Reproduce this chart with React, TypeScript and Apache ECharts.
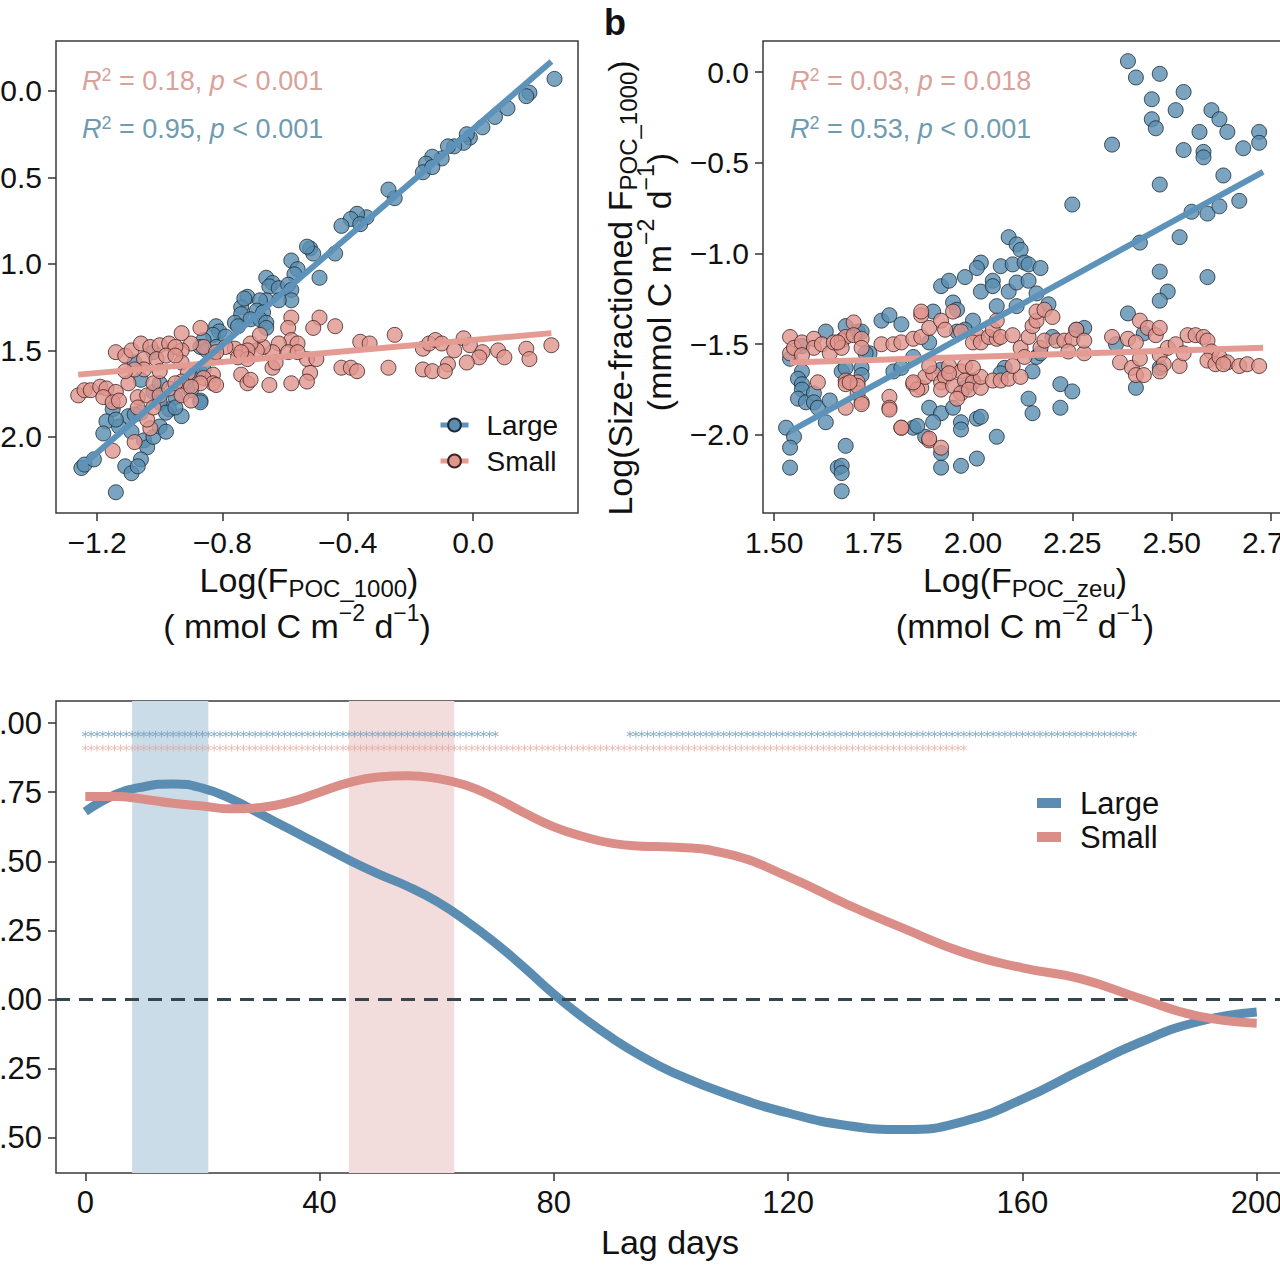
import React, { useEffect, useRef } from "react";
import * as echarts from "echarts";

const FONT = "'Liberation Sans', Arial, Helvetica, sans-serif";

// ---------- Panel a : Log(F_POC_1000) vs size-fractioned ----------
const largeA: number[][] = [
  [0.26,0.07],[0.18,-0.01],[0.17,-0.03],[0.11,-0.10],[0.07,-0.15],[0.03,-0.21],[-0.01,-0.27],[-0.02,-0.25],[-0.03,-0.30],[-0.06,-0.32],
  [-0.08,-0.32],[-0.10,-0.39],[-0.13,-0.38],[-0.15,-0.42],[-0.16,-0.47],[-0.13,-0.44],[-0.25,-0.62],[-0.27,-0.57],[-0.34,-0.73],[-0.37,-0.71],
  [-0.39,-0.74],[-0.42,-0.78],[-0.36,-0.77],[-0.44,-0.94],[-0.49,-1.08],[-0.52,-0.91],[-0.51,-0.94],[-0.53,-0.90],[-0.58,-0.98],[-0.56,-1.03],
  [-0.57,-1.06],[-0.66,-1.08],[-0.64,-1.11],[-0.65,-1.13],[-0.62,-1.14],[-0.59,-1.12],[-0.58,-1.15],[-0.58,-1.21],[-0.62,-1.21],[-0.66,-1.21],
  [-0.72,-1.19],[-0.68,-1.21],[-0.74,-1.25],[-0.74,-1.29],[-0.69,-1.27],[-0.67,-1.28],[-0.71,-1.32],[-0.68,-1.32],[-0.66,-1.34],[-0.66,-1.37],
  [-0.76,-1.34],[-0.75,-1.36],[-0.82,-1.36],[-0.81,-1.39],[-0.83,-1.41],[-0.79,-1.42],[-0.86,-1.44],[-0.87,-1.48],[-0.85,-1.50],[-0.82,-1.48],
  [-0.87,-1.63],[-0.89,-1.64],[-0.90,-1.73],[-0.87,-1.79],[-1.08,-1.57],[-1.02,-1.51],[-1.06,-1.67],[-1.02,-1.74],[-1.00,-1.69],[-0.95,-1.77],
  [-0.97,-1.84],[-1.00,-1.80],[-0.87,-1.80],[-0.93,-1.88],[-1.15,-1.84],[-1.17,-1.91],[-1.13,-1.94],[-1.18,-1.98],[-1.10,-1.88],[-1.09,-1.97],
  [-1.05,-2.02],[-1.04,-2.06],[-1.02,-2.00],[-1.00,-1.94],[-0.98,-1.97],[-1.06,-1.86],[-1.25,-2.18],[-1.24,-2.16],[-1.21,-2.13],[-1.11,-2.17],
  [-1.09,-2.21],[-1.06,-2.13],[-1.07,-2.17],[-1.14,-2.32],[-0.86,-1.61],[-0.83,-1.54],[-0.91,-1.71],[-1.14,-1.90],[-0.98,-1.86],[-0.95,-1.83],
  [-0.73,-1.20],[-1.08,-1.87]
];
const smallA: number[][] = [
  [-0.49,-1.31],[-0.44,-1.36],[-0.36,-1.45],[-0.33,-1.46],[-0.25,-1.41],[-0.42,-1.60],[-0.39,-1.60],[-0.37,-1.62],[-0.27,-1.60],[-0.16,-1.49],
  [-0.14,-1.46],[-0.12,-1.44],[-0.10,-1.46],[-0.06,-1.50],[-0.03,-1.43],[-0.01,-1.47],[0.03,-1.51],[0.02,-1.54],[0.08,-1.50],[0.10,-1.54],
  [-0.16,-1.61],[-0.13,-1.62],[-0.08,-1.58],[-0.09,-1.62],[-0.02,-1.57],[0.17,-1.49],[0.18,-1.55],[0.25,-1.47],[-0.58,-1.31],[-0.59,-1.37],
  [-0.51,-1.37],[-0.53,-1.55],[-0.52,-1.63],[-0.53,-1.68],[-0.58,-1.69],[-0.65,-1.70],[-0.64,-1.60],[-0.74,-1.64],[-0.72,-1.69],[-0.71,-1.67],
  [-0.87,-1.37],[-0.58,-1.44],[-0.56,-1.46],[-0.62,-1.46],[-0.59,-1.51],[-0.56,-1.51],[-0.64,-1.51],[-0.67,-1.48],[-0.69,-1.50],[-0.71,-1.46],
  [-0.68,-1.41],[-0.72,-1.50],[-0.76,-1.49],[-0.75,-1.54],[-0.79,-1.48],[-0.83,-1.54],[-0.86,-1.48],[-0.90,-1.46],[-0.93,-1.50],[-0.63,-1.57],
  [-0.72,-1.55],[-0.83,-1.64],[-0.86,-1.66],[-0.83,-1.69],[-0.87,-1.69],[-0.93,-1.57],[-0.91,-1.63],[-0.93,-1.68],[-0.93,-1.40],[-1.14,-1.51],
  [-1.11,-1.53],[-1.09,-1.50],[-1.06,-1.46],[-1.03,-1.48],[-1.00,-1.47],[-0.97,-1.46],[-0.95,-1.48],[-1.05,-1.55],[-1.01,-1.55],[-0.98,-1.53],
  [-0.95,-1.53],[-0.82,-1.51],[-0.74,-1.51],[-0.82,-1.70],[-1.26,-1.76],[-1.24,-1.73],[-1.22,-1.73],[-1.19,-1.71],[-1.17,-1.72],[-1.14,-1.74],
  [-1.18,-1.77],[-1.15,-1.80],[-1.13,-1.79],[-1.10,-1.69],[-1.07,-1.77],[-1.04,-1.76],[-1.07,-1.83],[-1.02,-1.69],[-1.00,-1.76],[-0.97,-1.72],
  [-0.95,-1.69],[-0.93,-1.76],[-0.90,-1.71],[-0.90,-1.79],[-1.08,-2.03],[-1.03,-1.95],[-1.15,-2.08],[-1.05,-1.61],[-1.08,-1.61],[-1.00,-1.62],
  [-1.11,-1.62],[-1.04,-1.90],[-0.50,-1.55],[-1.02,-1.83]
];
const largeFitA = [[-1.25, -2.17], [0.25, 0.17]];
const smallFitA = [[-1.26, -1.64], [0.25, -1.40]];

// ---------- Panel b : Log(F_POC_zeu) vs size-fractioned ----------
const largeB: number[][] = [
  [2.39,0.06],[2.41,-0.03],[2.47,-0.01],[2.45,-0.15],[2.45,-0.26],[2.46,-0.31],[2.53,-0.11],[2.51,-0.21],[2.57,-0.33],[2.60,-0.21],
  [2.62,-0.26],[2.64,-0.33],[2.53,-0.43],[2.58,-0.44],[2.58,-0.47],[2.68,-0.42],[2.72,-0.33],[2.72,-0.39],[2.35,-0.40],[2.47,-0.62],
  [2.63,-0.57],[2.67,-0.71],[2.55,-0.77],[2.59,-0.78],[2.62,-0.74],[2.25,-0.73],[2.42,-0.94],[2.52,-0.91],[2.47,-1.10],[2.59,-1.13],
  [2.49,-1.21],[2.47,-1.26],[2.39,-1.33],[2.43,-1.44],[2.36,-1.50],[2.41,-1.74],[2.47,-1.63],[2.28,-1.41],
  [2.09,-0.91],[2.11,-0.95],[2.12,-0.98],[2.02,-1.05],[2.01,-1.08],[2.07,-1.07],[2.10,-1.06],[2.13,-1.05],[2.14,-1.06],[2.17,-1.08],
  [1.92,-1.18],[1.94,-1.15],[1.98,-1.13],[2.02,-1.21],[2.05,-1.15],[2.05,-1.18],[2.09,-1.21],[2.11,-1.16],[2.14,-1.15],[2.16,-1.22],
  [1.95,-1.27],[1.96,-1.31],[2.06,-1.29],[2.11,-1.29],[2.19,-1.28],[1.90,-1.32],[1.77,-1.37],[1.79,-1.34],[1.82,-1.39],[1.63,-1.43],
  [1.68,-1.40],[1.71,-1.43],[1.72,-1.43],[2.00,-1.37],[1.98,-1.42],[1.96,-1.43],[2.16,-1.57],[2.17,-1.55],[2.26,-1.42],[1.57,-1.65],
  [1.56,-1.69],[1.57,-1.72],[1.57,-1.75],[1.56,-1.80],[1.58,-1.82],[1.60,-1.77],[1.60,-1.82],[1.61,-1.85],[1.64,-1.81],[1.67,-1.65],
  [1.68,-1.63],[1.72,-1.63],[1.72,-1.67],[1.63,-1.93],[1.53,-1.96],[1.55,-2.01],[1.54,-2.07],[1.54,-2.18],[1.66,-2.18],[1.67,-2.17],
  [1.67,-2.21],[1.67,-2.31],[1.68,-2.06],[1.74,-1.55],[1.80,-1.65],[1.85,-1.96],[1.88,-2.01],[1.89,-1.85],[1.92,-1.88],[1.90,-1.93],
  [1.95,-1.85],[1.97,-1.93],[1.97,-1.97],[2.01,-1.91],[2.02,-1.90],[1.92,-2.10],[1.92,-2.18],[1.97,-2.17],[2.01,-2.13],[1.92,-1.64],
  [2.00,-1.70],[1.98,-1.74],[2.06,-2.01],[2.08,-1.63],[2.14,-1.80],[2.15,-1.88],[2.22,-1.85],[2.22,-1.72],[2.25,-1.76],[1.57,-1.51],
  [1.54,-1.58],[1.89,-1.49],[1.82,-1.63],[1.85,-1.57],[2.20,-1.46],[2.07,-1.66],[2.15,-1.65],[1.86,-1.95],[1.73,-1.55]
];
const smallB: number[][] = [
  [1.54,-1.46],[1.54,-1.55],[1.55,-1.52],[1.57,-1.49],[1.60,-1.47],[1.60,-1.52],[1.62,-1.50],[1.64,-1.55],[1.65,-1.49],[1.67,-1.48],
  [1.68,-1.46],[1.70,-1.38],[1.70,-1.45],[1.72,-1.47],[1.72,-1.52],[1.67,-1.52],[1.66,-1.49],[1.57,-1.56],[1.68,-1.70],[1.68,-1.72],
  [1.71,-1.71],[1.61,-1.71],[1.71,-1.77],[1.72,-1.82],[1.68,-1.85],[1.79,-1.79],[1.79,-1.85],[1.82,-1.96],[1.77,-1.50],[1.80,-1.50],
  [1.82,-1.49],[1.85,-1.47],[1.87,-1.46],[1.89,-1.41],[1.87,-1.34],[1.92,-1.37],[1.95,-1.32],[1.93,-1.42],[1.85,-1.72],[1.87,-1.74],
  [1.86,-1.75],[1.88,-1.68],[1.90,-1.66],[1.92,-1.71],[1.93,-1.68],[1.89,-1.62],[1.92,-1.75],[1.95,-1.73],[1.94,-1.62],[1.97,-1.65],
  [1.98,-1.62],[1.98,-1.70],[2.00,-1.71],[1.97,-1.77],[1.99,-1.75],[2.02,-1.74],[2.02,-1.68],[2.00,-1.63],[1.96,-1.80],[1.94,-1.66],
  [1.89,-2.03],[1.92,-2.07],[1.97,-1.43],[2.01,-1.45],[2.00,-1.49],[2.02,-1.49],[2.04,-1.46],[2.06,-1.47],[2.05,-1.42],[2.06,-1.37],
  [2.05,-1.70],[2.07,-1.70],[2.09,-1.69],[2.12,-1.68],[2.10,-1.62],[2.07,-1.46],[2.10,-1.45],[2.12,-1.52],[2.14,-1.46],[2.15,-1.40],
  [2.16,-1.37],[2.16,-1.32],[2.18,-1.31],[2.20,-1.35],[2.13,-1.57],[2.17,-1.52],[2.18,-1.48],[2.21,-1.48],[2.23,-1.48],[2.25,-1.47],
  [2.26,-1.42],[2.24,-1.54],[2.35,-1.46],[2.37,-1.60],[2.39,-1.47],[2.41,-1.49],[2.42,-1.37],[2.44,-1.41],[2.46,-1.45],[2.47,-1.41],
  [2.40,-1.63],[2.41,-1.67],[2.43,-1.67],[2.42,-1.58],[2.47,-1.56],[2.48,-1.61],[2.47,-1.65],[2.49,-1.52],[2.52,-1.62],[2.51,-1.50],
  [2.53,-1.55],[2.54,-1.45],[2.56,-1.45],[2.58,-1.46],[2.59,-1.48],[2.60,-1.54],[2.59,-1.59],[2.61,-1.61],[2.62,-1.57],[2.64,-1.60],
  [2.63,-1.61],[2.67,-1.62],[2.69,-1.61],[2.72,-1.62],[2.28,-1.55],[2.28,-1.48],[1.87,-1.32],[1.82,-1.96],[1.79,-1.86],[1.89,-2.02],
  [1.85,-1.71],[1.71,-1.73],[1.72,-1.83],[1.69,-1.71]
];
const largeFitB = [[1.54, -1.98], [2.73, -0.55]];
const smallFitB = [[1.54, -1.60], [2.73, -1.52]];

// ---------- Panel c : correlation vs lag days ----------
const lagDays = [0,5,10,15,20,25,30,35,40,45,50,55,60,65,70,75,80,85,90,95,100,110,120,130,140,150,160,170,180,190,200];
const largeCorr = [0.68,0.74,0.77,0.78,0.765,0.725,0.67,0.615,0.56,0.505,0.455,0.41,0.355,0.285,0.205,0.115,0.02,-0.065,-0.14,-0.205,-0.26,-0.345,-0.41,-0.455,-0.47,-0.44,-0.36,-0.255,-0.155,-0.08,-0.045];
const smallCorr = [0.735,0.735,0.725,0.71,0.70,0.69,0.695,0.715,0.75,0.785,0.805,0.81,0.80,0.775,0.73,0.675,0.625,0.59,0.565,0.555,0.552,0.525,0.445,0.345,0.255,0.17,0.115,0.075,0.005,-0.06,-0.085];
const bandRanges = [[8, 21], [45, 63]];
const sigRangesLarge = [[0, 70], [93, 179]];
const sigRangesSmall = [[0, 150]];
const sigRowLarge = 0.96;
const sigRowSmall = 0.91;

// ---------- tick labels ----------
const aXTicks = [-1.2, -0.8, -0.4, 0.0];
const aYTicks = [0, -0.5, -1, -1.5, -2];
const bXTicks = [1.5, 1.75, 2, 2.25, 2.5, 2.75];
const bYTicks = [0, -0.5, -1, -1.5, -2];
const cXTicks = [0, 40, 80, 120, 160, 200];
const cYTicks = [1, 0.75, 0.5, 0.25, 0, -0.25, -0.5];

const BLUE_PT = "#5a8db0";
const PINK_PT = "#e0958d";
const BLUE_LN = "#5d93ba";
const PINK_LN = "#e49b93";
const BLUE_TXT = "#6f9bb0";
const PINK_TXT = "#d8a29b";
const BLUE_CURVE = "#5b8db2";
const PINK_CURVE = "#db8e88";
const BAND_COLORS = ["#c9dce8", "#f3dddc"];

const ASTERISK =
  "path://M4.4,0 L5.6,0 L5.6,10 L4.4,10 Z M0.37,3.02 L0.97,1.98 L9.63,6.98 L9.03,8.02 Z M0.37,6.98 L9.03,1.98 L9.63,3.02 L0.97,8.02 Z";

const minus = (s: string) => s.replace("-", "\u2212");
const f1 = (v: number) => minus(v.toFixed(1));
const f2 = (v: number) => minus(v.toFixed(2));
const f0 = (v: number) => minus(String(Math.round(v)));

function expand(ranges: number[][], y: number) {
  const out: number[][] = [];
  ranges.forEach(([a, b]) => {
    for (let d = a; d <= b; d++) out.push([d, y]);
  });
  return out;
}

function valueAxis(gridIndex: number, min: number, max: number, ticks: number[], fmt: (v: number) => string, fs: number) {
  return {
    type: "value",
    gridIndex,
    min,
    max,
    axisLine: { show: false, onZero: false },
    splitLine: { show: false },
    axisTick: { show: true, customValues: ticks, length: 8, lineStyle: { color: "#333", width: 1.5 } },
    axisLabel: { show: true, customValues: ticks, formatter: fmt, fontSize: fs, color: "#111", fontFamily: FONT, margin: 14 },
  };
}

function richTitle(text: string, x: number, y: number, lh: number, rotation = 0) {
  return {
    type: "text",
    x,
    y,
    rotation,
    z: 50,
    style: {
      text,
      align: "center",
      verticalAlign: "middle",
      fontFamily: FONT,
      fontSize: 34,
      fill: "#111",
      rich: {
        m: { fontSize: 34, lineHeight: lh, fill: "#111", fontFamily: FONT, verticalAlign: "middle" },
        sub: { fontSize: 24, lineHeight: 24, fill: "#111", fontFamily: FONT, verticalAlign: "bottom" },
        sup: { fontSize: 23, lineHeight: 23, fill: "#111", fontFamily: FONT, verticalAlign: "top" },
      },
    },
  };
}

function richStat(text: string, x: number, y: number, color: string) {
  return {
    type: "text",
    x,
    y,
    z: 50,
    style: {
      text,
      align: "left",
      verticalAlign: "middle",
      fontFamily: FONT,
      fontSize: 27,
      fill: color,
      rich: {
        i: { fontStyle: "italic", fontSize: 27, lineHeight: 30, fill: color, fontFamily: FONT, verticalAlign: "middle" },
        n: { fontSize: 27, lineHeight: 30, fill: color, fontFamily: FONT, verticalAlign: "middle" },
        s: { fontSize: 18, lineHeight: 18, fill: color, fontFamily: FONT, verticalAlign: "top" },
      },
    },
  };
}

function scatter(name: string, xi: number, data: number[][], color: string, border: string, z: number) {
  return {
    name,
    type: "scatter",
    xAxisIndex: xi,
    yAxisIndex: xi,
    data,
    symbol: "circle",
    symbolSize: 15,
    itemStyle: { color, borderColor: border, borderWidth: 1 },
    silent: true,
    z,
  };
}

function fitLine(name: string, xi: number, data: number[][], color: string, ptColor: string, border: string, z: number) {
  return {
    name,
    type: "line",
    xAxisIndex: xi,
    yAxisIndex: xi,
    data,
    symbol: "circle",
    symbolSize: 14,
    showSymbol: false,
    lineStyle: { color, width: 6 },
    itemStyle: { color: ptColor, borderColor: border, borderWidth: 1 },
    silent: true,
    z,
  };
}

const gridBase = {
  show: true,
  borderColor: "#3a3a3a",
  borderWidth: 1.5,
  backgroundColor: "transparent",
  containLabel: false,
  outerBoundsMode: "none",
};

const option: any = {
  animation: false,
  backgroundColor: "#ffffff",
  textStyle: { fontFamily: FONT },
  grid: [
    { ...gridBase, left: 86, top: 41, width: 522, height: 472 },
    { ...gridBase, left: 793, top: 41, width: 520, height: 472 },
    { ...gridBase, left: 86, top: 701, width: 1230, height: 472 },
  ],
  xAxis: [
    valueAxis(0, -1.331, 0.335, aXTicks, f1, 30),
    valueAxis(1, 1.472, 2.78, bXTicks, f2, 30),
    valueAxis(2, -5, 205, cXTicks, f0, 31),
  ],
  yAxis: [
    valueAxis(0, -2.44, 0.289, aYTicks, f1, 30),
    valueAxis(1, -2.43, 0.171, bYTicks, f1, 30),
    valueAxis(2, -0.627, 1.08, cYTicks, f2, 31),
  ],
  legend: [
    {
      data: ["Large", "Small"],
      orient: "vertical",
      left: 463,
      top: 406,
      itemWidth: 28,
      itemHeight: 16,
      itemGap: 8,
      selectedMode: false,
      lineStyle: { width: 5 },
      textStyle: { fontSize: 28, color: "#111", fontFamily: FONT, padding: [0, 0, 0, 13], lineHeight: 28 },
    },
    {
      data: ["Large_c", "Small_c"],
      orient: "vertical",
      left: 1062,
      top: 781,
      icon: "rect",
      itemWidth: 24,
      itemHeight: 10,
      itemGap: 0,
      selectedMode: false,
      formatter: (n: string) => n.replace("_c", ""),
      textStyle: { fontSize: 31, color: "#111", fontFamily: FONT, padding: [0, 0, 0, 14], lineHeight: 34 },
    },
  ],
  series: [
    scatter("Large_pts_a", 0, largeA, BLUE_PT, "#1d2b36", 2),
    scatter("Small_pts_a", 0, smallA, PINK_PT, "#3d2222", 3),
    fitLine("Small", 0, smallFitA, PINK_LN, PINK_PT, "#3d2222", 4),
    fitLine("Large", 0, largeFitA, BLUE_LN, BLUE_PT, "#1d2b36", 5),
    scatter("Large_pts_b", 1, largeB, BLUE_PT, "#1d2b36", 2),
    scatter("Small_pts_b", 1, smallB, PINK_PT, "#3d2222", 3),
    fitLine("Small_b", 1, smallFitB, PINK_LN, PINK_PT, "#3d2222", 4),
    fitLine("Large_b", 1, largeFitB, BLUE_LN, BLUE_PT, "#1d2b36", 5),
    {
      name: "bands",
      type: "custom",
      xAxisIndex: 2,
      yAxisIndex: 2,
      silent: true,
      z: 1,
      data: bandRanges,
      encode: { x: [0, 1] },
      renderItem: (params: any, api: any) => {
        const cs = params.coordSys;
        const p0 = api.coord([api.value(0), 0]);
        const p1 = api.coord([api.value(1), 0]);
        return {
          type: "rect",
          shape: { x: p0[0], y: cs.y, width: p1[0] - p0[0], height: cs.height },
          style: { fill: BAND_COLORS[params.dataIndex] },
        };
      },
    },
    {
      name: "zero",
      type: "line",
      xAxisIndex: 2,
      yAxisIndex: 2,
      data: [],
      silent: true,
      z: 2,
      markLine: {
        silent: true,
        symbol: "none",
        label: { show: false },
        lineStyle: { color: "#36464f", width: 3, type: [14, 9] },
        data: [{ yAxis: 0 }],
      },
    },
    {
      name: "sigL",
      type: "scatter",
      xAxisIndex: 2,
      yAxisIndex: 2,
      data: expand(sigRangesLarge, sigRowLarge),
      symbol: ASTERISK,
      symbolSize: 7,
      itemStyle: { color: "#6f9cba" },
      silent: true,
      z: 3,
    },
    {
      name: "sigS",
      type: "scatter",
      xAxisIndex: 2,
      yAxisIndex: 2,
      data: expand(sigRangesSmall, sigRowSmall),
      symbol: ASTERISK,
      symbolSize: 7,
      itemStyle: { color: "#e2a29c" },
      silent: true,
      z: 3,
    },
    {
      name: "Large_c",
      type: "line",
      xAxisIndex: 2,
      yAxisIndex: 2,
      data: lagDays.map((d, i) => [d, largeCorr[i]]),
      smooth: 0.5,
      showSymbol: false,
      symbol: "none",
      lineStyle: { color: BLUE_CURVE, width: 9 },
      itemStyle: { color: BLUE_CURVE },
      silent: true,
      z: 4,
    },
    {
      name: "Small_c",
      type: "line",
      xAxisIndex: 2,
      yAxisIndex: 2,
      data: lagDays.map((d, i) => [d, smallCorr[i]]),
      smooth: 0.5,
      showSymbol: false,
      symbol: "none",
      lineStyle: { color: PINK_CURVE, width: 9 },
      itemStyle: { color: PINK_CURVE },
      silent: true,
      z: 5,
    },
  ],
  graphic: [
    richStat("{i|R}{s|2}{n| = 0.18, }{i|p}{n| < 0.001}", 112, 81, PINK_TXT),
    richStat("{i|R}{s|2}{n| = 0.95, }{i|p}{n| < 0.001}", 112, 129, BLUE_TXT),
    richStat("{i|R}{s|2}{n| = 0.03, }{i|p}{n| = 0.018}", 820, 81, PINK_TXT),
    richStat("{i|R}{s|2}{n| = 0.53, }{i|p}{n| < 0.001}", 820, 129, BLUE_TXT),
    richTitle("{m|Log(F}{sub|POC_1000}{m|)}", 339, 580, 40),
    richTitle("{m|( mmol C m}{sup|\u22122}{m| d}{sup|\u22121}{m|)}", 327, 626, 50),
    richTitle("{m|Log(F}{sub|POC_zeu}{m|)}", 1055, 580, 40),
    richTitle("{m|(mmol C m}{sup|\u22122}{m| d}{sup|\u22121}{m|)}", 1055, 626, 50),
    richTitle("{m|Log(Size-fractioned F}{sub|POC_1000}{m|)}", 650, 288, 40, Math.PI / 2),
    richTitle("{m|(mmol C m}{sup|\u22122}{m| d}{sup|\u22121}{m|)}", 689, 282, 50, Math.PI / 2),
    {
      type: "text",
      x: 700,
      y: 1242,
      z: 50,
      style: { text: "Lag days", align: "center", verticalAlign: "middle", fontSize: 34, fontFamily: FONT, fill: "#111" },
    },
    {
      type: "text",
      x: 634,
      y: 22,
      z: 50,
      style: { text: "b", align: "left", verticalAlign: "middle", fontSize: 36, fontWeight: "bold", fontFamily: FONT, fill: "#111" },
    },
  ],
};

export default function App() {
  const ref = useRef<HTMLDivElement>(null);
  useEffect(() => {
    if (!ref.current) return;
    const chart = echarts.init(ref.current, null, { renderer: "svg" });
    chart.setOption(option);
    return () => chart.dispose();
  }, []);
  return (
    <div style={{ position: "fixed", left: 0, top: 0, width: 1280, height: 1280, overflow: "hidden", background: "#fff" }}>
      <div ref={ref} style={{ position: "absolute", left: -30, top: 0, width: 1350, height: 1280 }} />
    </div>
  );
}
